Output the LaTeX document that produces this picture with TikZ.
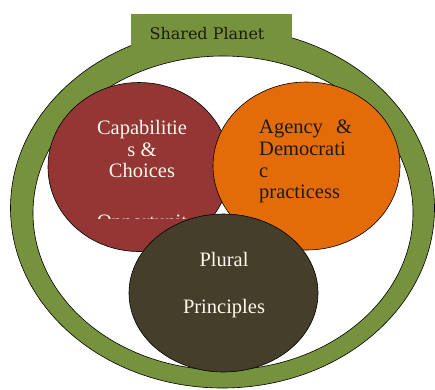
\documentclass[tikz,border=0pt]{standalone}
\usepackage{fontspec}
\setmainfont{Liberation Serif}
\newfontfamily\slabfont{DejaVu Serif}
\usetikzlibrary{shapes.geometric}
\definecolor{ringgreen}{HTML}{76923C}
\definecolor{capred}{HTML}{943634}
\definecolor{agorange}{HTML}{E36C09}
\definecolor{pldark}{HTML}{443E2A}
\definecolor{lighttext}{HTML}{FFF8EE}
\definecolor{darktext}{HTML}{1E1A10}
\tikzset{
  circ/.style={ellipse, draw=black, line width=0.6pt, inner sep=0pt},
  tabbox/.style={rectangle, fill=ringgreen, inner sep=0pt, minimum width=161pt, minimum height=38pt},
  bigtext/.style={font=\fontsize{20.5}{21.7}\selectfont, inner sep=0pt},
  lighttxt/.style={bigtext, text=lighttext},
  darktxt/.style={bigtext, text=darktext},
}
\begin{document}
\begin{tikzpicture}[x=1pt,y=-1pt]
\useasboundingbox (0,0) rectangle (435,389);
\fill[white] (0,0) rectangle (435,389);
% outer ring
\path[fill=ringgreen, even odd rule, draw=black, line width=0.6pt]
  (222.5,208) ellipse [x radius=212, y radius=180]
  (223,213) ellipse [x radius=190, y radius=157];
% tab
\node[tabbox] (tab) at (211.5,33) {};
\node[font=\slabfont\fontsize{16}{19}\selectfont, text=darktext, inner sep=0pt] (planet) at (207,34) {Shared Planet};
% circles
\node[circ, fill=capred, minimum width=182pt, minimum height=169pt] (cap) at (139,167) {};
\node[circ, fill=agorange, minimum width=187pt, minimum height=168pt] (ag) at (306.5,166) {};
% red circle text
\node[lighttxt, align=center] (captext) at (142,149) {Capabilitie\\s \&\\Choices};
\begin{scope}
  \clip (60,200) rectangle (230,218);
  \node[lighttxt] (opp) at (142,224) {Opportunit};
\end{scope}
% orange circle text
\node[darktxt, align=left, anchor=north west] (agtext) at (259,120) {\makebox[93pt][s]{Agency\hfill\&}\\Democrati\\c\\practicess};
% bottom circle
\node[circ, fill=pldark, minimum width=189pt, minimum height=158pt] (pl) at (223.5,293) {};
\node[lighttxt] (plural) at (224,259) {Plural};
\node[lighttxt] (princ) at (224,309) {Principles};
\end{tikzpicture}
\end{document}
